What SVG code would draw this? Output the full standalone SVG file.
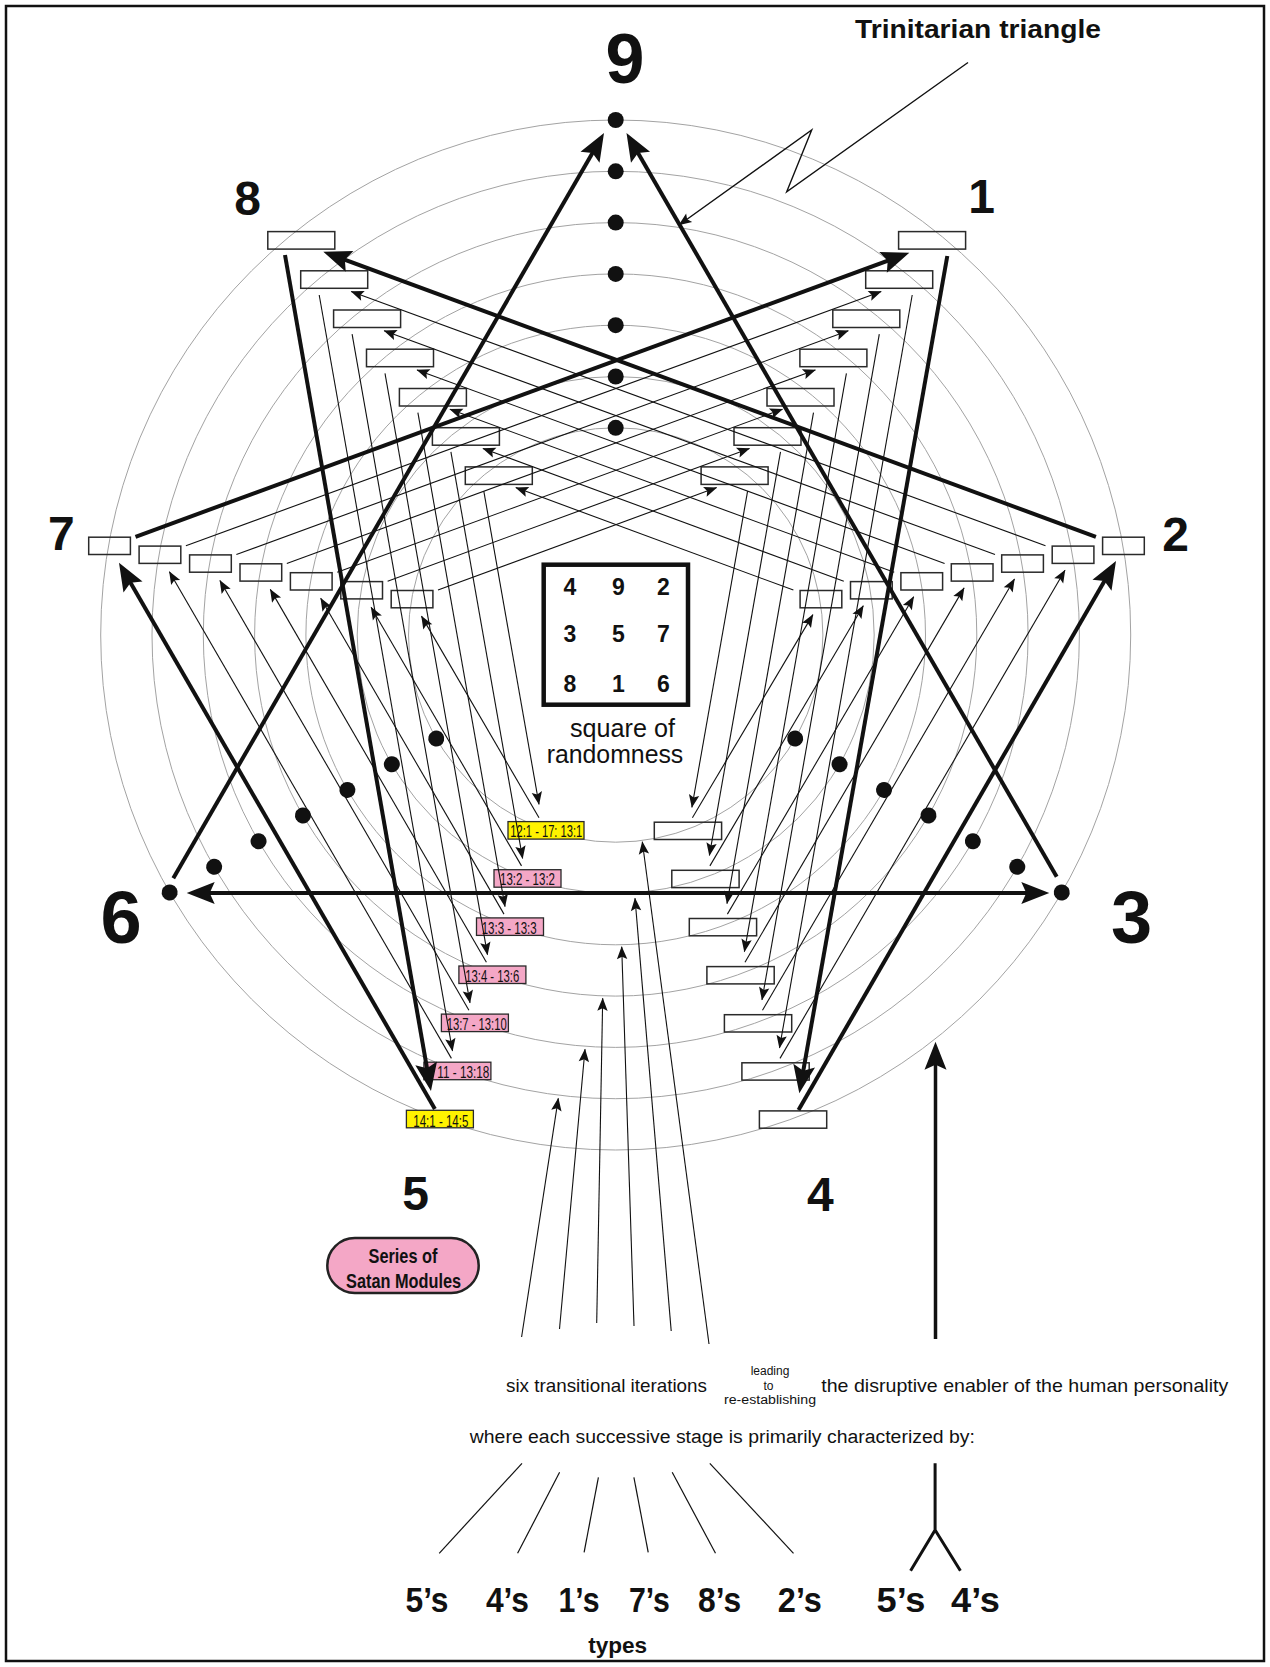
<svg xmlns="http://www.w3.org/2000/svg" width="1270" height="1667" viewBox="0 0 1270 1667">
<defs>
  <marker id="headThick" markerUnits="userSpaceOnUse" viewBox="-22 -12 32 24" markerWidth="32" markerHeight="24" refX="0" refY="0" orient="auto-start-reverse" overflow="visible">
    <path d="M8,0 L-20,-11 L-15,0 L-20,11 Z" fill="#111"/>
  </marker>
  <marker id="headThin" markerUnits="userSpaceOnUse" viewBox="-14 -6 15 12" markerWidth="15" markerHeight="12" refX="0" refY="0" orient="auto" overflow="visible">
    <path d="M0.5,0 L-12.5,-5.2 L-10,0 L-12.5,5.2 Z" fill="#111"/>
  </marker>
</defs>
<style>
  .frame{fill:none;stroke:#111;stroke-width:2.5}
  .ring{fill:none;stroke:#a3a3a3;stroke-width:1}
  .box{fill:none;stroke:#2a2a2a;stroke-width:1.5}
  .tag{stroke:#2a2a2a;stroke-width:1.3}
  .pink{fill:#f4a7c6}
  .yellow{fill:#fff200}
  .dot{fill:#111}
  .thin{fill:none;stroke:#111;stroke-width:1.1;marker-end:url(#headThin)}
  .thick{fill:none;stroke:#111;stroke-width:4;marker-end:url(#headThick)}
  .plain{fill:none;stroke:#111;stroke-width:1.2}
  .fork{fill:none;stroke:#111;stroke-width:3}
  text{font-family:"Liberation Sans",Arial,"DejaVu Sans",sans-serif;fill:#111}
  .num{font-weight:bold;font-size:48px;text-anchor:middle}
  .big{font-weight:bold;font-size:74px;text-anchor:middle}
  .tagtxt{font-size:17px;text-anchor:middle}
  .sq{font-weight:bold;font-size:23px;text-anchor:middle}
  .cap{font-size:25px;text-anchor:middle}
  .note{font-size:19px}
  .tiny{font-size:12px;text-anchor:middle}
  .types{font-weight:bold;font-size:35px;text-anchor:middle}
</style>

<rect class="frame" x="6" y="6" width="1258" height="1655"/>

<!-- concentric rings -->
<g id="rings">
  <circle class="ring" cx="615.7" cy="635" r="515"/>
  <circle class="ring" cx="615.7" cy="635" r="463.7"/>
  <circle class="ring" cx="615.7" cy="635" r="412.4"/>
  <circle class="ring" cx="615.7" cy="635" r="361.1"/>
  <circle class="ring" cx="615.7" cy="635" r="309.8"/>
  <circle class="ring" cx="615.7" cy="635" r="258.5"/>
  <circle class="ring" cx="615.7" cy="635" r="207.2"/>
</g>

<!-- point 9 with its column of dots; 3 and 6 reuse the column rotated -->
<g id="node-9">
  <g id="dotcol">
    <circle class="dot" cx="615.7" cy="120" r="8"/>
    <circle class="dot" cx="615.7" cy="171.3" r="8"/>
    <circle class="dot" cx="615.7" cy="222.6" r="8"/>
    <circle class="dot" cx="615.7" cy="273.9" r="8"/>
    <circle class="dot" cx="615.7" cy="325.2" r="8"/>
    <circle class="dot" cx="615.7" cy="376.5" r="8"/>
    <circle class="dot" cx="615.7" cy="427.8" r="8"/>
  </g>
  <text class="big" x="625" y="83" style="font-size:70px">9</text>
</g>
<g id="node-3">
  <use href="#dotcol" transform="rotate(120 615.7 635)"/>
  <text class="big" x="1131.7" y="943.3">3</text>
</g>
<g id="node-6">
  <use href="#dotcol" transform="rotate(240 615.7 635)"/>
  <text class="big" x="121" y="943.3">6</text>
</g>

<g id="node-8">
  <text class="num" x="247.5" y="215">8</text>
  <rect class="box" x="267.8" y="231.6" width="67" height="17.5"/>
  <rect class="box" x="300.7" y="270.8" width="67" height="17.5"/>
  <rect class="box" x="333.6" y="310" width="67" height="17.5"/>
  <rect class="box" x="366.5" y="349.2" width="67" height="17.5"/>
  <rect class="box" x="399.4" y="388.5" width="67" height="17.5"/>
  <rect class="box" x="432.4" y="427.7" width="67" height="17.5"/>
  <rect class="box" x="465.3" y="466.9" width="67" height="17.5"/>
</g>

<g id="node-1">
  <text class="num" x="981.7" y="212.5">1</text>
  <rect class="box" x="898.6" y="231.6" width="67" height="17.5"/>
  <rect class="box" x="865.7" y="270.8" width="67" height="17.5"/>
  <rect class="box" x="832.8" y="310" width="67" height="17.5"/>
  <rect class="box" x="799.9" y="349.2" width="67" height="17.5"/>
  <rect class="box" x="767" y="388.5" width="67" height="17.5"/>
  <rect class="box" x="734" y="427.7" width="67" height="17.5"/>
  <rect class="box" x="701.1" y="466.9" width="67" height="17.5"/>
</g>

<g id="node-7">
  <text class="num" x="61.3" y="550">7</text>
  <rect class="box" x="88.7" y="537.2" width="41.7" height="17.3"/>
  <rect class="box" x="139.1" y="546.1" width="41.7" height="17.3"/>
  <rect class="box" x="189.6" y="554.9" width="41.7" height="17.3"/>
  <rect class="box" x="240" y="563.8" width="41.7" height="17.3"/>
  <rect class="box" x="290.4" y="572.7" width="41.7" height="17.3"/>
  <rect class="box" x="340.8" y="581.6" width="41.7" height="17.3"/>
  <rect class="box" x="391.2" y="590.5" width="41.7" height="17.3"/>
</g>

<g id="node-2">
  <text class="num" x="1175.5" y="551">2</text>
  <rect class="box" x="1102.6" y="537.2" width="41.7" height="17.3"/>
  <rect class="box" x="1052.2" y="546.1" width="41.7" height="17.3"/>
  <rect class="box" x="1001.7" y="554.9" width="41.7" height="17.3"/>
  <rect class="box" x="951.3" y="563.8" width="41.7" height="17.3"/>
  <rect class="box" x="900.9" y="572.7" width="41.7" height="17.3"/>
  <rect class="box" x="850.5" y="581.6" width="41.7" height="17.3"/>
  <rect class="box" x="800.1" y="590.5" width="41.7" height="17.3"/>
</g>

<g id="node-4">
  <text class="num" x="820.4" y="1210.7">4</text>
  <rect class="box" x="759.4" y="1110.9" width="67.3" height="17.3"/>
  <rect class="box" x="741.9" y="1062.8" width="67.3" height="17.3"/>
  <rect class="box" x="724.4" y="1014.7" width="67.3" height="17.3"/>
  <rect class="box" x="706.9" y="966.6" width="67.3" height="17.3"/>
  <rect class="box" x="689.3" y="918.5" width="67.3" height="17.3"/>
  <rect class="box" x="671.8" y="870.3" width="67.3" height="17.3"/>
  <rect class="box" x="654.3" y="822.2" width="67.3" height="17.3"/>
</g>

<g id="node-5">
  <text class="num" x="415.7" y="1210">5</text>
  <rect class="tag yellow" x="406.4" y="1110.3" width="67" height="17.5"/>
  <text class="tagtxt" x="440.8" y="1126.5" textLength="55" lengthAdjust="spacingAndGlyphs">14:1 - 14:5</text>
  <rect class="tag pink" x="423.9" y="1062.2" width="67" height="17.5"/>
  <text class="tagtxt" x="463.3" y="1078.2" textLength="52" lengthAdjust="spacingAndGlyphs">11 - 13:18</text>
  <rect class="tag pink" x="441.4" y="1014.1" width="67" height="17.5"/>
  <text class="tagtxt" x="476.7" y="1030" textLength="60" lengthAdjust="spacingAndGlyphs">13:7 - 13:10</text>
  <rect class="tag pink" x="458.9" y="966" width="67" height="17.5"/>
  <text class="tagtxt" x="492.2" y="981.8" textLength="54" lengthAdjust="spacingAndGlyphs">13:4 - 13:6</text>
  <rect class="tag pink" x="476.5" y="917.9" width="67" height="17.5"/>
  <text class="tagtxt" x="509.2" y="933.6" textLength="55" lengthAdjust="spacingAndGlyphs">13:3 - 13:3</text>
  <rect class="tag pink" x="494" y="869.7" width="67" height="17.5"/>
  <text class="tagtxt" x="527.5" y="885.4" textLength="55" lengthAdjust="spacingAndGlyphs">13:2 - 13:2</text>
  <rect class="tag yellow" x="508" y="821.6" width="76" height="17.5"/>
  <text class="tagtxt" x="546.3" y="837.3" textLength="72" lengthAdjust="spacingAndGlyphs">12:1 - 17: 13:1</text>
</g>

<!-- magic square -->
<g id="square">
  <rect x="543.7" y="564.7" width="144.3" height="140" fill="none" stroke="#111" stroke-width="4.5"/>
  <text class="sq" x="570" y="595">4</text>
  <text class="sq" x="618.3" y="595">9</text>
  <text class="sq" x="663.3" y="595">2</text>
  <text class="sq" x="570" y="641.7">3</text>
  <text class="sq" x="618.3" y="641.7">5</text>
  <text class="sq" x="663.3" y="641.7">7</text>
  <text class="sq" x="570" y="691.7">8</text>
  <text class="sq" x="618.3" y="691.7">1</text>
  <text class="sq" x="663.3" y="691.7">6</text>
  <text class="cap" x="622.5" y="736.7" textLength="105" lengthAdjust="spacingAndGlyphs">square of</text>
  <text class="cap" x="615" y="763.3" textLength="136.6" lengthAdjust="spacingAndGlyphs">randomness</text>
</g>

<g id="connectors">
  <!-- 8 to 5 -->
  <line class="thin" x1="319.2" y1="295" x2="452.5" y2="1050.9"/>
  <line class="thin" x1="352.1" y1="334.2" x2="470" y2="1002.8"/>
  <line class="thin" x1="385" y1="373.4" x2="487.5" y2="954.7"/>
  <line class="thin" x1="417.9" y1="412.7" x2="505" y2="906.6"/>
  <line class="thin" x1="450.9" y1="451.9" x2="522.6" y2="858.4"/>
  <line class="thin" x1="483.8" y1="491.1" x2="539" y2="804.3"/>
  <!-- 1 to 4 -->
  <line class="thin" x1="912.2" y1="295" x2="779.5" y2="1047.9"/>
  <line class="thin" x1="879.3" y1="334.2" x2="762" y2="999.8"/>
  <line class="thin" x1="846.4" y1="373.4" x2="744.4" y2="951.7"/>
  <line class="thin" x1="813.5" y1="412.7" x2="727" y2="903.6"/>
  <line class="thin" x1="780.5" y1="451.9" x2="709.4" y2="855.4"/>
  <line class="thin" x1="747.6" y1="491.1" x2="691.9" y2="807.3"/>
  <!-- 7 to 1 -->
  <line class="thin" x1="185.9" y1="545.7" x2="881.2" y2="291.5"/>
  <line class="thin" x1="236.4" y1="554.5" x2="848.3" y2="330.7"/>
  <line class="thin" x1="286.8" y1="563.4" x2="815.4" y2="369.9"/>
  <line class="thin" x1="337.2" y1="572.3" x2="782.5" y2="409.2"/>
  <line class="thin" x1="387.6" y1="581.2" x2="749.5" y2="448.4"/>
  <line class="thin" x1="438" y1="590.1" x2="716.6" y2="487.6"/>
  <!-- 2 to 8 -->
  <line class="thin" x1="1045.5" y1="545.7" x2="351.2" y2="291.5"/>
  <line class="thin" x1="995" y1="554.5" x2="384.1" y2="330.7"/>
  <line class="thin" x1="944.6" y1="563.4" x2="417" y2="369.9"/>
  <line class="thin" x1="894.2" y1="572.3" x2="449.9" y2="409.2"/>
  <line class="thin" x1="843.8" y1="581.2" x2="482.9" y2="448.4"/>
  <line class="thin" x1="793.4" y1="590.1" x2="515.8" y2="487.6"/>
  <!-- 5 to 7 -->
  <line class="thin" x1="451.4" y1="1058.4" x2="169.4" y2="571.7"/>
  <line class="thin" x1="468.9" y1="1010.3" x2="219.9" y2="580.5"/>
  <line class="thin" x1="486.4" y1="962.2" x2="270.3" y2="589.4"/>
  <line class="thin" x1="504" y1="914.1" x2="320.7" y2="598.3"/>
  <line class="thin" x1="521.5" y1="865.9" x2="371.1" y2="607.2"/>
  <line class="thin" x1="539" y1="817.8" x2="421.5" y2="616.1"/>
  <!-- 4 to 2 -->
  <line class="thin" x1="780" y1="1058.4" x2="1065" y2="570.2"/>
  <line class="thin" x1="762.5" y1="1010.3" x2="1014.5" y2="579"/>
  <line class="thin" x1="745" y1="962.2" x2="964.1" y2="587.9"/>
  <line class="thin" x1="727.4" y1="914.1" x2="913.7" y2="596.8"/>
  <line class="thin" x1="709.9" y1="865.9" x2="863.3" y2="605.7"/>
  <line class="thin" x1="692.4" y1="817.8" x2="812.9" y2="614.6"/>

  <!-- outer hexad -->
  <line class="thick" x1="285" y1="255" x2="429.6" y2="1083.1"/>
  <line class="thick" x1="947.3" y1="256" x2="800.7" y2="1085.4"/>
  <line class="thick" x1="135.5" y1="536.8" x2="901.8" y2="255.5"/>
  <line class="thick" x1="1095.9" y1="536.8" x2="330.8" y2="254.5"/>
  <line class="thick" x1="434.9" y1="1109" x2="123" y2="569.7"/>
  <line class="thick" x1="798.5" y1="1110" x2="1112" y2="567.9"/>

  <!-- triangle 9-3-6 -->
  <line class="thick" x1="173.3" y1="878.3" x2="600" y2="139.9"/>
  <line class="thick" x1="1056.7" y1="876.7" x2="630.5" y2="139.9"/>
  <line class="thick" x1="194.7" y1="893" x2="1041.3" y2="893" style="marker-start:url(#headThick)"/>

  <!-- six transitional iterations -->
  <line class="thin" x1="521.6" y1="1337" x2="558.3" y2="1098.3"/>
  <line class="thin" x1="559.5" y1="1329" x2="585" y2="1049.3"/>
  <line class="thin" x1="596.7" y1="1323" x2="602.7" y2="998.3"/>
  <line class="thin" x1="634" y1="1326" x2="621.7" y2="946.7"/>
  <line class="thin" x1="671.2" y1="1331" x2="635" y2="898.3"/>
  <line class="thin" x1="709" y1="1344" x2="642.3" y2="841.7"/>
  <line class="thick" x1="935.5" y1="1339" x2="935.5" y2="1049.7" style="stroke-width:3.5"/>

  <!-- lightning pointer to the triangle -->
  <polyline class="thin" points="968,62.5 786.7,191.7 811.7,130 679,225" style="stroke-width:1.4"/>

  <!-- fan towards the type labels -->
  <line class="plain" x1="522" y1="1463.3" x2="439.2" y2="1553.3"/>
  <line class="plain" x1="559.6" y1="1472.3" x2="517.6" y2="1553.3"/>
  <line class="plain" x1="598.4" y1="1477.3" x2="584.1" y2="1552.3"/>
  <line class="plain" x1="633.9" y1="1477.3" x2="648.2" y2="1552.3"/>
  <line class="plain" x1="672.2" y1="1472.3" x2="715.5" y2="1553.3"/>
  <line class="plain" x1="709.8" y1="1463.3" x2="793.5" y2="1553.3"/>
  <path class="fork" d="M935.1,1463.3 V1530 L910.6,1570.7 M935.1,1530 L960.4,1570.7"/>
</g>

<g id="title">
  <text x="855" y="38" style="font-weight:bold;font-size:25px" textLength="246" lengthAdjust="spacingAndGlyphs">Trinitarian triangle</text>
</g>

<g id="satan-modules">
  <rect x="327.3" y="1238" width="151.4" height="55" rx="27.5" fill="#f4a7c6" stroke="#222" stroke-width="2.5"/>
  <text x="403" y="1263" style="font-weight:bold;font-size:21px;text-anchor:middle" textLength="69" lengthAdjust="spacingAndGlyphs">Series of</text>
  <text x="403.6" y="1288" style="font-weight:bold;font-size:21px;text-anchor:middle" textLength="115" lengthAdjust="spacingAndGlyphs">Satan Modules</text>
</g>

<g id="captions">
  <text class="note" x="506" y="1391.5" textLength="201" lengthAdjust="spacingAndGlyphs">six transitional iterations</text>
  <text class="tiny" x="770" y="1375">leading</text>
  <text class="tiny" x="768.5" y="1389.5">to</text>
  <text class="tiny" x="770" y="1403.5" textLength="92" lengthAdjust="spacingAndGlyphs">re-establishing</text>
  <text class="note" x="821.3" y="1391.5" textLength="407" lengthAdjust="spacingAndGlyphs">the disruptive enabler of the human personality</text>
  <text x="469.8" y="1443" style="font-size:18px" textLength="505" lengthAdjust="spacingAndGlyphs">where each successive stage is primarily characterized by:</text>
</g>

<g id="type-labels">
  <text class="types" x="427" y="1611.7" textLength="43" lengthAdjust="spacingAndGlyphs">5’s</text>
  <text class="types" x="507.4" y="1611.7" textLength="43" lengthAdjust="spacingAndGlyphs">4’s</text>
  <text class="types" x="579" y="1611.7" textLength="41" lengthAdjust="spacingAndGlyphs">1’s</text>
  <text class="types" x="649.4" y="1611.7" textLength="41" lengthAdjust="spacingAndGlyphs">7’s</text>
  <text class="types" x="719.6" y="1611.7" textLength="43" lengthAdjust="spacingAndGlyphs">8’s</text>
  <text class="types" x="799.8" y="1611.7" textLength="44" lengthAdjust="spacingAndGlyphs">2’s</text>
  <text class="types" x="901" y="1611.7" textLength="49" lengthAdjust="spacingAndGlyphs">5’s</text>
  <text class="types" x="975.5" y="1611.7" textLength="49" lengthAdjust="spacingAndGlyphs">4’s</text>
  <text x="617.7" y="1653.3" style="font-weight:bold;font-size:22px;text-anchor:middle" textLength="59" lengthAdjust="spacingAndGlyphs">types</text>
</g>
</svg>
